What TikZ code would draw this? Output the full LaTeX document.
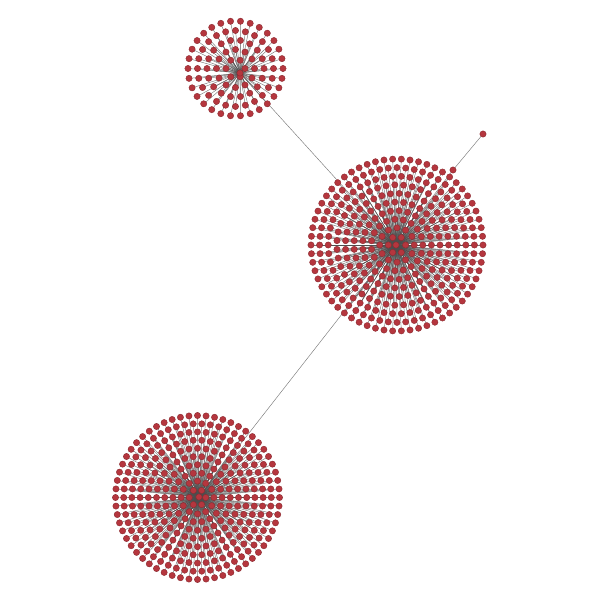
\documentclass[tikz,border=0pt]{standalone}
\definecolor{nodered}{HTML}{B5363E}
\definecolor{noderim}{HTML}{8A2A30}
\definecolor{edgegray}{HTML}{4C4C4C}
\tikzset{
  leaf/.style={circle, fill=nodered, draw=noderim, line width=0.4pt, inner sep=0pt, minimum size=6.3pt},
  link/.style={draw=edgegray, line width=0.45pt, opacity=0.75}
}
% prefix, hub x, hub y, rings centre x, rings centre y, rings K, radial step, tangential spacing
\newcommand\myplace[8]{%
  \coordinate (#1h) at (#2,#3);
  \foreach \k in {1,...,#6}{
    \pgfmathtruncatemacro\nk{round(6.2832*\k*#7/#8)}
    \foreach \j in {1,...,\nk}{
      \pgfmathsetmacro\aa{(360/\nk)*\j}
      \coordinate (#1-\k-\j) at ({#4+\k*#7*cos(\aa)},{#5+\k*#7*sin(\aa)});
    }
  }
}
% prefix, K, step, spacing
\newcommand\mylinks[4]{%
  \foreach \k in {1,...,#2}{
    \pgfmathtruncatemacro\nk{round(6.2832*\k*#3/#4)}
    \foreach \j in {1,...,\nk}{\draw[link] (#1h) -- (#1-\k-\j);}
  }
}
\newcommand\mydots[4]{%
  \foreach \k in {1,...,#2}{
    \pgfmathtruncatemacro\nk{round(6.2832*\k*#3/#4)}
    \foreach \j in {1,...,\nk}{\node[leaf] (#1n-\k-\j) at (#1-\k-\j) {};}
  }
  \node[leaf] (#1hub) at (#1h) {};
}
\begin{document}
\begin{tikzpicture}[x=1pt,y=-1pt]
\useasboundingbox (0,0) rectangle (600,600);
\myplace{s}{240}{73}{235.5}{68.5}{5}{9.5}{10}
\myplace{b}{396}{245}{397}{245}{10}{8.6}{8.7}
\myplace{c}{199}{497}{197.5}{497.5}{10}{8.2}{8.6}
\coordinate (x1) at (453,170);
\coordinate (x2) at (483,134);
\mylinks{s}{5}{9.5}{10}
\mylinks{b}{10}{8.6}{8.7}
\mylinks{c}{10}{8.2}{8.6}
\draw[link] (sh) -- (bh);
\draw[link] (bh) -- (ch);
\draw[link] (bh) -- (x1);
\draw[link] (x1) -- (x2);
\mydots{s}{5}{9.5}{10}
\mydots{b}{10}{8.6}{8.7}
\mydots{c}{10}{8.2}{8.6}
\node[leaf] (xn1) at (x1) {};
\node[leaf] (xn2) at (x2) {};
\end{tikzpicture}
\end{document}
